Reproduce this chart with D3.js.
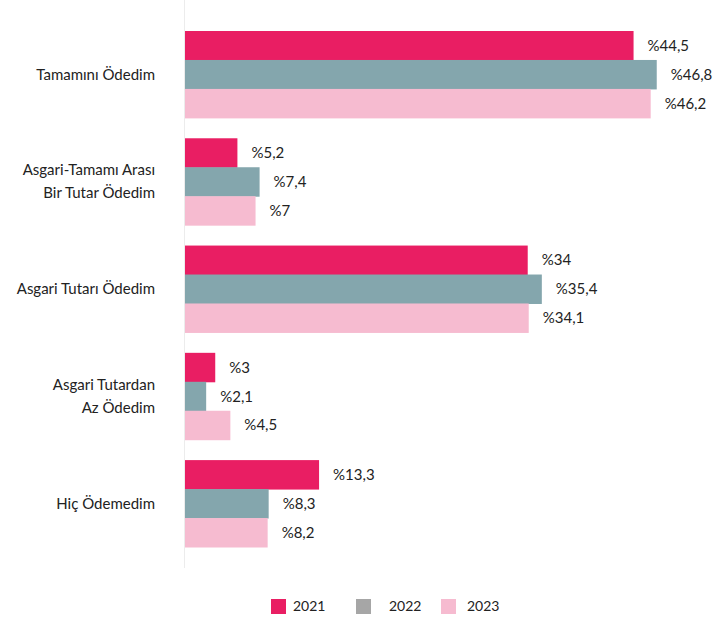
<!DOCTYPE html>
<html>
<head>
<meta charset="utf-8">
<script src="https://cdn.jsdelivr.net/npm/d3@7"></script>
<style>
  body { margin: 0; background: #fff; }
  text { font-family: Lato, "Open Sans", sans-serif; fill: #222; }
</style>
</head>
<body>
<div id="wrapper"></div>
<script>
const categories = [
    ["Tamamını Ödedim"],
    ["Asgari-Tamamı Arası", "Bir Tutar Ödedim"],
    ["Asgari Tutarı Ödedim"],
    ["Asgari Tutardan", "Az Ödedim"],
    ["Hiç Ödemedim"]
];
const years = ["2021", "2022", "2023"];
const values2021 = [44.5, 5.2, 34, 3, 13.3];
const values2022 = [46.8, 7.4, 35.4, 2.1, 8.3];
const values2023 = [46.2, 7, 34.1, 4.5, 8.2];

const barColors = ["#E91E63", "#84A6AD", "#F6BBD0"];
const legendColors = ["#E91E63", "#A6A6A6", "#F6BBD0"];

const dimensions = { width: 713, height: 619 };

const svg = d3.select("#wrapper")
    .append("svg")
    .attr("width", dimensions.width)
    .attr("height", dimensions.height);

const series = [values2021, values2022, values2023];
const keys = categories.map(d => d.join(" "));

const x = d3.scaleLinear()
    .domain([0, 50])
    .range([185, 689]);

const y = d3.scaleBand()
    .domain(keys)
    .range([31, 547])
    .paddingInner(0.19);

const yInner = d3.scaleBand()
    .domain(years)
    .range([0, y.bandwidth()]);

// vertical baseline
svg.append("line")
    .attr("x1", 184.5).attr("x2", 184.5)
    .attr("y1", 0).attr("y2", 568)
    .attr("stroke", "#ececec")
    .attr("stroke-width", 1);

const groups = svg.selectAll("g.group")
    .data(keys)
    .join("g")
    .attr("class", "group")
    .attr("transform", k => `translate(0,${y(k)})`);

groups.selectAll("rect")
    .data((k, i) => years.map((yr, j) => ({ yr, j, v: series[j][i] })))
    .join("rect")
    .attr("x", x(0))
    .attr("y", d => yInner(d.yr))
    .attr("width", d => x(d.v) - x(0))
    .attr("height", yInner.bandwidth() + 0.5)
    .attr("fill", d => barColors[d.j]);

groups.selectAll("text.val")
    .data((k, i) => years.map((yr, j) => ({ yr, j, v: series[j][i] })))
    .join("text")
    .attr("class", "val")
    .attr("x", d => x(d.v) + 14)
    .attr("y", d => yInner(d.yr) + yInner.bandwidth() / 2)
    .attr("dy", "0.35em")
    .style("font-size", "15px")
    .text(d => "%" + String(d.v).replace(".", ","));

// category labels
groups.each(function(k, i) {
    const lines = categories[i];
    const t = d3.select(this).append("text")
        .attr("text-anchor", "end")
        .style("font-size", "15px");
    lines.forEach((ln, li) => {
        t.append("tspan")
            .attr("x", 155)
            .attr("y", y.bandwidth() / 2 + (li - (lines.length - 1) / 2) * 23)
            .attr("dy", "0.35em")
            .text(ln);
    });
});

// legend
const legendX = [271, 356, 441];
const legendTextOffset = [22, 33, 26];
const legend = svg.selectAll("g.legend")
    .data(years)
    .join("g")
    .attr("class", "legend")
    .attr("transform", (d, i) => `translate(${legendX[i]},599)`);

legend.append("rect")
    .attr("width", 15).attr("height", 15)
    .attr("fill", (d, i) => legendColors[i]);

legend.append("text")
    .attr("x", (d, i) => legendTextOffset[i])
    .attr("y", 7.5)
    .attr("dy", "0.35em")
    .style("font-size", "14px")
    .text(d => d);
</script>
</body>
</html>
